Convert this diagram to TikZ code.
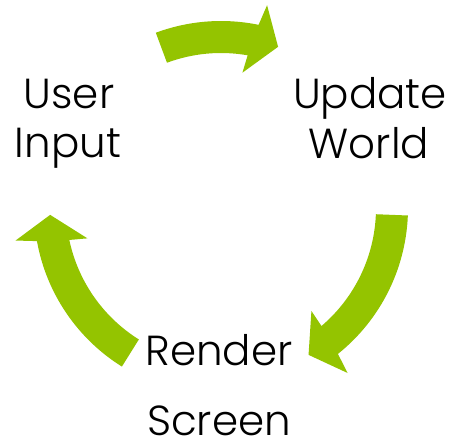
\documentclass[tikz,border=0pt]{standalone}
\usepackage{fontspec}
\setmainfont{Poppins}[UprightFont=* Light]
\definecolor{cyclegreen}{RGB}{148,196,0}

% One curved block arrow on the cycle, running clockwise from the tail
% angle #1 to the tip angle #2 (degrees, around the current origin).
\newcommand\cyclearc[2]{%
  \fill[cyclearrow] (#1:187) arc[start angle=#1, end angle={#2+7.9}, radius=187]
    -- ({#2+6.7}:208) -- (#2:171) -- ({#2+10.5}:137) -- ({#2+9.6}:155)
    arc[start angle={#2+9.6}, end angle=#1, radius=155] -- cycle;}

\begin{document}
\begin{tikzpicture}[x=1pt,y=1pt,
  cyclearrow/.style={fill=cyclegreen, draw=none},
  steplabel/.style={font=\fontsize{42}{42}\selectfont, anchor=base, inner sep=0pt}]
\useasboundingbox (0,0) rectangle (457,440);

% the three arrows of the loop
\begin{scope}[shift={(221,232)}]
  \cyclearc{110.4}{70.5}
  \cyclearc{-2.3}{-59.2}
  \cyclearc{238}{182.3}
\end{scope}

% stage names
\node[steplabel] (user)   at (69,331)  {User};
\node[steplabel] (input)  at (68,283)  {Input};
\node[steplabel] (update) at (370,331) {Update};
\node[steplabel] (world)  at (369,282) {World};
\node[steplabel] (render) at (219,75)  {Render};
\node[steplabel] (screen) at (219,4.5) {Screen};
\end{tikzpicture}
\end{document}
